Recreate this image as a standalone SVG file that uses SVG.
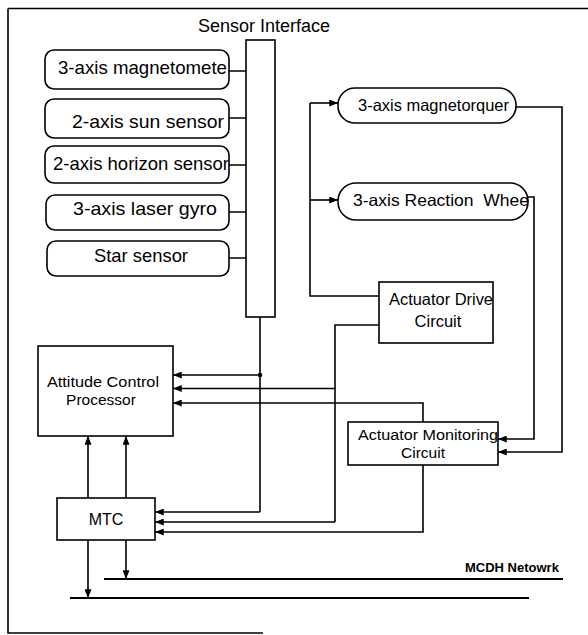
<svg xmlns="http://www.w3.org/2000/svg" width="588" height="635" viewBox="0 0 588 635">
<defs>
<style>
.ln{fill:none;stroke:#000;stroke-width:1.6}
.bx{fill:#fff;stroke:#000;stroke-width:1.6}
.t{font-family:"Liberation Sans",Arial,sans-serif;fill:#000}
.s{font-size:19px}
.m{font-size:16.5px}
.c{text-anchor:middle}
</style>
<marker id="ah" viewBox="0 0 10 8" refX="10" refY="4" markerWidth="10" markerHeight="7" orient="auto" markerUnits="userSpaceOnUse"><path d="M0,0 L10,4 L0,8 z" fill="#000"/></marker>
</defs>
<rect width="588" height="635" fill="#fff"/>
<g id="frame" class="ln">
<path d="M8,8.5 H588 M8,8.5 V633 H263"/>
</g>
<g id="connectors" class="ln">
<path d="M229,71 H246 M229,118 H246 M229,165 H246 M229,212 H246 M229,258 H246"/>
<path d="M260,317 V512"/>
<path d="M260,375 H173" marker-end="url(#ah)"/>
<path d="M260,512 H155" marker-end="url(#ah)"/>
<circle cx="260" cy="375" r="1.5" fill="#000"/>
<path d="M379,325 H335 V522"/>
<path d="M335,388.5 H173" marker-end="url(#ah)"/>
<path d="M335,522 H155" marker-end="url(#ah)"/>
<path d="M423,422 V403 H173" marker-end="url(#ah)"/>
<path d="M423,465 V532 H155" marker-end="url(#ah)"/>
<path d="M379,296 H310 V103"/>
<path d="M310,103 H338" marker-end="url(#ah)"/>
<path d="M310,200 H338" marker-end="url(#ah)"/>
<path d="M516,107 H562 V452 H498" marker-end="url(#ah)"/>
<path d="M528,197 H534 V439 H498" marker-end="url(#ah)"/>
<path d="M88,498 V436" marker-end="url(#ah)"/>
<path d="M126,498 V436" marker-end="url(#ah)"/>
<path d="M88,540 V598" marker-end="url(#ah)"/>
<path d="M126,540 V579" marker-end="url(#ah)"/>
<path d="M104,579 H563 M70,598 H529" stroke-width="1.8"/>
</g>
<g id="sensor-interface">
<rect class="bx" x="246" y="40" width="29" height="277"/>
<text class="t c" x="264" y="32" font-size="18">Sensor Interface</text>
</g>
<g id="magnetometer">
<rect class="bx" x="45" y="50" width="184" height="39" rx="9"/>
<text class="t s" x="58" y="74" textLength="169" lengthAdjust="spacingAndGlyphs">3-axis magnetomete</text>
</g>
<g id="sun-sensor">
<rect class="bx" x="45" y="99" width="184" height="39" rx="9"/>
<text class="t s" x="72" y="128" textLength="152" lengthAdjust="spacingAndGlyphs">2-axis sun sensor</text>
</g>
<g id="horizon-sensor">
<rect class="bx" x="45" y="146" width="184" height="37" rx="9"/>
<text class="t s" x="53" y="170" textLength="176" lengthAdjust="spacingAndGlyphs">2-axis horizon sensor</text>
</g>
<g id="laser-gyro">
<rect class="bx" x="46" y="195" width="183" height="35" rx="9"/>
<text class="t s" x="73" y="215" textLength="144" lengthAdjust="spacingAndGlyphs">3-axis laser gyro</text>
</g>
<g id="star-sensor">
<rect class="bx" x="47" y="241" width="182" height="35" rx="9"/>
<text class="t s" x="94" y="262" textLength="94" lengthAdjust="spacingAndGlyphs">Star sensor</text>
</g>
<g id="magnetorquer">
<rect class="bx" x="338" y="88" width="178" height="35" rx="17"/>
<text class="t m" x="358" y="111" textLength="151" lengthAdjust="spacingAndGlyphs">3-axis magnetorquer</text>
</g>
<g id="reaction-wheel">
<rect class="bx" x="338" y="183" width="190" height="37" rx="18"/>
<text class="t m" x="353" y="206" textLength="176" lengthAdjust="spacingAndGlyphs" xml:space="preserve">3-axis Reaction  Whee</text>
</g>
<g id="actuator-drive">
<rect class="bx" x="379" y="282" width="114" height="61"/>
<text class="t m" x="389" y="305" textLength="104" lengthAdjust="spacingAndGlyphs">Actuator Drive</text>
<text class="t m c" x="438" y="327">Circuit</text>
</g>
<g id="actuator-monitoring">
<rect class="bx" x="348" y="422" width="150" height="43"/>
<text class="t" x="358" y="440" font-size="15.5" textLength="140" lengthAdjust="spacingAndGlyphs">Actuator Monitoring</text>
<text class="t c" x="423" y="458" font-size="15.5">Circuit</text>
</g>
<g id="acp">
<rect class="bx" x="38" y="346" width="135" height="90"/>
<text class="t c" x="103" y="387" font-size="15.5" textLength="112" lengthAdjust="spacingAndGlyphs">Attitude Control</text>
<text class="t c" x="101" y="405" font-size="15.5">Processor</text>
</g>
<g id="mtc">
<rect class="bx" x="57" y="498" width="98" height="42"/>
<text class="t c" x="106" y="525" font-size="16">MTC</text>
</g>
<g id="network-label">
<text class="t" x="465" y="572" font-size="13" font-weight="bold">MCDH Netowrk</text>
</g>
</svg>
